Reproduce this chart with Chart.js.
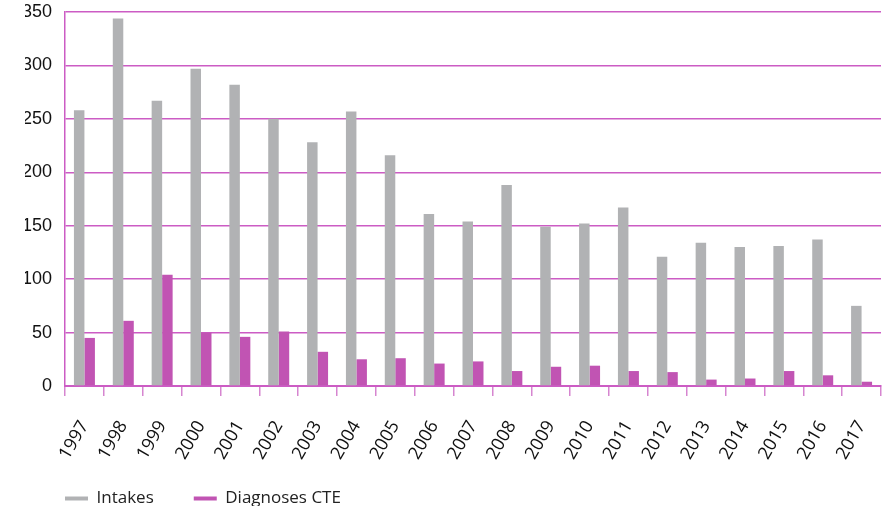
<!DOCTYPE html>
<html><head><meta charset="utf-8">
<script src="https://cdn.jsdelivr.net/npm/chart.js@4"></script>
<style>html,body{margin:0;padding:0;background:#fff;}#wrap{width:891px;height:506px;}</style>
</head><body><div id="wrap"><canvas id="c" width="891" height="506"></canvas></div>
<script>
const years = ['1997','1998','1999','2000','2001','2002','2003','2004','2005','2006','2007','2008','2009','2010','2011','2012','2013','2014','2015','2016','2017'];
const intakes = [258,344,267,297,282,250,228,257,216,161,154,188,149,152,167,121,134,130,131,137,75];
const diagnosesCTE = [45,61,104,50,46,51,32,25,26,21,23,14,18,19,14,13,6,7,14,10,4];
const yTicks = [0,50,100,150,200,250,300,350];

const GRID = '#cc5cc4';
const legendShift = {
  id: 'legendShift',
  afterLayout(chart) {
    const l = chart.legend;
    l.top = 450;
    l.bottom = chart.height;
    l.height = l.bottom - l.top;
  }
};
new Chart(document.getElementById('c'), {
  type: 'bar',
  plugins: [legendShift],
  data: {
    labels: years,
    datasets: [
      {label: 'Intakes', data: intakes, backgroundColor: '#b1b2b4', borderWidth: 0, categoryPercentage: 0.54, barPercentage: 1},
      {label: 'Diagnoses CTE', data: diagnosesCTE, backgroundColor: '#c154b3', borderWidth: 0, categoryPercentage: 0.54, barPercentage: 1}
    ]
  },
  options: {
    responsive: false,
    animation: false,
    devicePixelRatio: 1,
    layout: {padding: {left: 25, right: 10, top: 12, bottom: 0}},
    plugins: {
      tooltip: {enabled: false},
      legend: {
        position: 'bottom', align: 'start', maxHeight: 46,
        labels: {boxWidth: 23, boxHeight: 4, padding: 40, color: '#222', font: {family: 'Open Sans', size: 17}}
      }
    },
    scales: {
      x: {
        offset: true,
        afterFit: (s) => { s.height = 74; s.paddingLeft = 0; s.paddingRight = 0; },
        grid: {offset: true, drawOnChartArea: false, drawTicks: true, tickLength: 10, color: '#d685d0', lineWidth: 1.5},
        border: {display: true, color: GRID, width: 2},
        ticks: {minRotation: 60, maxRotation: 60, padding: 21, color: '#111', font: {family: 'Open Sans', size: 18}}
      },
      y: {
        min: 0, max: 350,
        afterFit: (s) => { s.width = 40; s.paddingTop = 0; s.paddingBottom = 0; },
        afterBuildTicks: (s) => { s.ticks = yTicks.map(v => ({value: v})); },
        grid: {drawTicks: false, color: GRID, lineWidth: 1.5},
        border: {display: true, color: GRID, width: 1.5},
        ticks: {padding: 13, color: '#111', font: {family: 'Liberation Sans', size: 18}}
      }
    }
  }
});
</script></body></html>
